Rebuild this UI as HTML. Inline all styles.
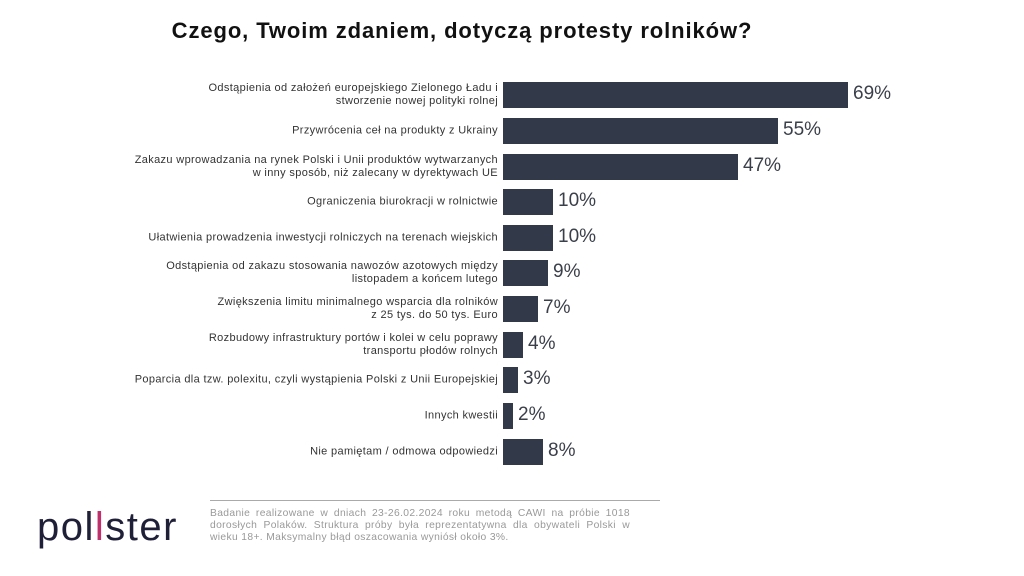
<!DOCTYPE html>
<html><head><meta charset="utf-8"><style>
body{margin:0;width:1024px;height:576px;background:#fff;position:relative;font-family:"Liberation Sans",sans-serif;overflow:hidden}
.t{position:absolute;left:0;width:924px;top:18px;text-align:center;font-size:22px;letter-spacing:0.9px;font-weight:bold;color:#111}
.row{position:absolute;left:0;width:1024px;height:26px}
.lab{position:absolute;right:526px;width:480px;text-align:right;font-size:11px;letter-spacing:0.35px;line-height:13px;color:#333;top:50%;transform:translateY(-50%)}
.bar{position:absolute;left:503px;top:0;height:26px;background:#323a4a}
.val{position:absolute;top:1px;font-size:19px;color:#3a3f4a}
.foot{position:absolute;left:210px;top:508px;width:420px;font-size:10.3px;letter-spacing:0.35px;line-height:12px;color:#999;text-align:justify}
.hr{position:absolute;left:210px;top:500px;width:450px;height:1px;background:#aaa}
.logo{position:absolute;left:37px;top:505px;font-size:40px;color:#1f2038;letter-spacing:1.5px}
</style></head><body>
<div class="t">Czego, Twoim zdaniem, dotyczą protesty rolników?</div>
<div class="row" style="top:82px"><div class="lab">Odstąpienia od założeń europejskiego Zielonego Ładu i<br>stworzenie nowej polityki rolnej</div><div class="bar" style="width:345px"></div><div class="val" style="left:853px">69%</div></div>
<div class="row" style="top:118px"><div class="lab">Przywrócenia ceł na produkty z Ukrainy</div><div class="bar" style="width:275px"></div><div class="val" style="left:783px">55%</div></div>
<div class="row" style="top:154px"><div class="lab">Zakazu wprowadzania na rynek Polski i Unii produktów wytwarzanych<br>w inny sposób, niż zalecany w dyrektywach UE</div><div class="bar" style="width:235px"></div><div class="val" style="left:743px">47%</div></div>
<div class="row" style="top:189px"><div class="lab">Ograniczenia biurokracji w rolnictwie</div><div class="bar" style="width:50px"></div><div class="val" style="left:558px">10%</div></div>
<div class="row" style="top:225px"><div class="lab">Ułatwienia prowadzenia inwestycji rolniczych na terenach wiejskich</div><div class="bar" style="width:50px"></div><div class="val" style="left:558px">10%</div></div>
<div class="row" style="top:260px"><div class="lab">Odstąpienia od zakazu stosowania nawozów azotowych między<br>listopadem a końcem lutego</div><div class="bar" style="width:45px"></div><div class="val" style="left:553px">9%</div></div>
<div class="row" style="top:296px"><div class="lab">Zwiększenia limitu minimalnego wsparcia dla rolników<br>z 25 tys. do 50 tys. Euro</div><div class="bar" style="width:35px"></div><div class="val" style="left:543px">7%</div></div>
<div class="row" style="top:332px"><div class="lab">Rozbudowy infrastruktury portów i kolei w celu poprawy<br>transportu płodów rolnych</div><div class="bar" style="width:20px"></div><div class="val" style="left:528px">4%</div></div>
<div class="row" style="top:367px"><div class="lab">Poparcia dla tzw. polexitu, czyli wystąpienia Polski z Unii Europejskiej</div><div class="bar" style="width:15px"></div><div class="val" style="left:523px">3%</div></div>
<div class="row" style="top:403px"><div class="lab">Innych kwestii</div><div class="bar" style="width:10px"></div><div class="val" style="left:518px">2%</div></div>
<div class="row" style="top:439px"><div class="lab">Nie pamiętam / odmowa odpowiedzi</div><div class="bar" style="width:40px"></div><div class="val" style="left:548px">8%</div></div>
<div class="hr"></div>
<div class="foot">Badanie realizowane w dniach 23-26.02.2024 roku metodą CAWI na próbie 1018 dorosłych Polaków. Struktura próby była reprezentatywna dla obywateli Polski w wieku 18+. Maksymalny błąd oszacowania wyniósł około 3%.</div>
<div class="logo">pol<span style="color:#c0306a">l</span>ster</div>
</body></html>
